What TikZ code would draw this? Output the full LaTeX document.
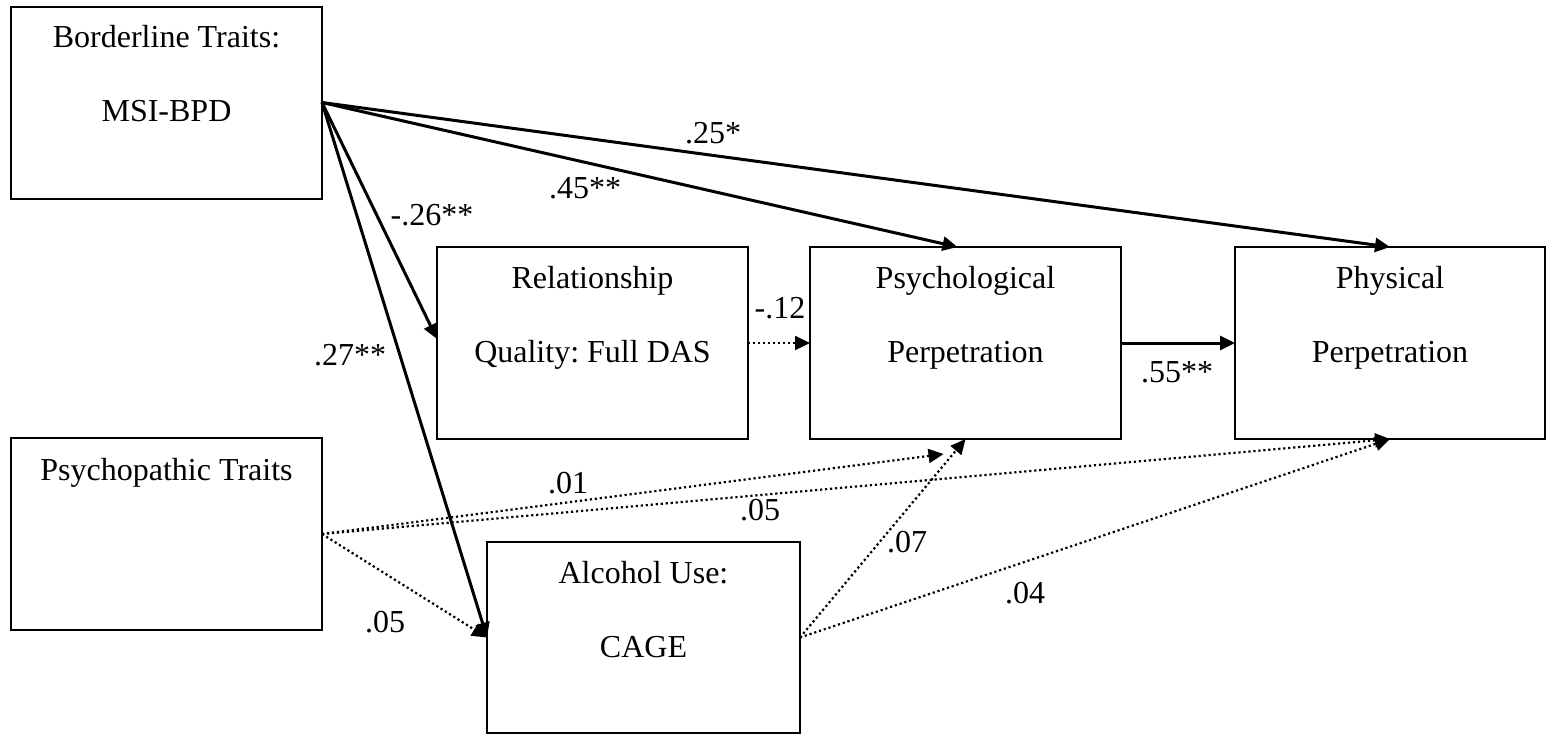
\documentclass[tikz,border=0pt]{standalone}
\usepackage{fontspec}
\setmainfont{Liberation Serif}
\usetikzlibrary{arrows.meta}
\frenchspacing
\begin{document}
\begin{tikzpicture}[x=0.5pt,y=-0.5pt,
  box/.style={draw, line width=1pt, minimum width=155.5pt, minimum height=96pt,
              inner sep=0pt, outer sep=0pt},
  boxtext/.style={anchor=base, inner sep=0pt, font=\fontsize{16}{19}\selectfont},
  coef/.style={inner sep=0pt, font=\fontsize{16}{19}\selectfont},
  sig/.style={draw, line width=1.5pt, -{Triangle[length=7.5pt,width=7pt]}},
  ns/.style={draw, line width=1.1pt, dash pattern=on 1.1pt off 1.4pt,
             -{Triangle[length=7.5pt,width=7pt]}},
]
\useasboundingbox (0,0) rectangle (1546,735);

% measured variables
\node[box] (bpd)  at (166.5,102.5) {};
\node[box] (psyc) at (166.5,534)   {};
\node[box] (rel)  at (592.5,343)   {};
\node[box] (psy)  at (965.5,343)   {};
\node[box, minimum width=155pt] (phy) at (1390,343) {};
\node[box, minimum width=156.5pt, minimum height=95.5pt] (alc) at (643.5,637.5) {};

% box captions: first line near the top, second line lower down
\node[boxtext] (bpdA)  at ([yshift=-20.5pt]bpd.north)  {Borderline Traits:};
\node[boxtext] (bpdB)  at ([yshift=-57.5pt]bpd.north)  {MSI-BPD};
\node[boxtext] (psycA) at ([yshift=-21pt]psyc.north)   {Psychopathic Traits};
\node[boxtext] (relA)  at ([yshift=-20.5pt]rel.north)  {Relationship};
\node[boxtext] (relB)  at ([yshift=-57.5pt]rel.north)  {Quality: Full DAS};
\node[boxtext] (psyA)  at ([yshift=-20.5pt]psy.north)  {Psychological};
\node[boxtext] (psyB)  at ([yshift=-57.5pt]psy.north)  {Perpetration};
\node[boxtext] (phyA)  at ([yshift=-20.5pt]phy.north)  {Physical};
\node[boxtext] (phyB)  at ([yshift=-57.5pt]phy.north)  {Perpetration};
\node[boxtext] (alcA)  at ([yshift=-20.5pt]alc.north)  {Alcohol Use:};
\node[boxtext] (alcB)  at ([yshift=-57.5pt]alc.north)  {CAGE};

% significant paths (solid)
\draw[sig] (bpd.east) -- ([yshift=2pt]rel.west);
\draw[sig] (bpd.east) -- ([xshift=-4pt]psy.north);
\draw[sig] (bpd.east) -- (phy.north);
\draw[sig] (bpd.east) -- (alc.west);
\draw[sig] (psy.east) -- (phy.west);

% non-significant paths (dotted)
\draw[ns] (rel.east) -- (psy.west);
\draw[ns] (psyc.east) -- ([xshift=-11pt,yshift=-7.5pt]psy.south);
\draw[ns] (psyc.east) -- (phy.south);
\draw[ns] (psyc.east) -- (alc.west);
\draw[ns] (alc.east) -- (psy.south);
\draw[ns] (alc.east) -- (phy.south);

% path coefficients
\node[coef] (c25)  at (713,133)  {.25*};
\node[coef] (c45)  at (585,188)  {.45**};
\node[coef] (c26)  at (432,215)  {-.26**};
\node[coef] (c27)  at (350,355)  {.27**};
\node[coef] (c12)  at (780,308)  {-.12};
\node[coef] (c55)  at (1177,372) {.55**};
\node[coef] (c01)  at (568,483)  {.01};
\node[coef] (c05a) at (760,510)  {.05};
\node[coef] (c05b) at (385,622)  {.05};
\node[coef] (c07)  at (907,542)  {.07};
\node[coef] (c04)  at (1025,593) {.04};
\end{tikzpicture}
\end{document}
